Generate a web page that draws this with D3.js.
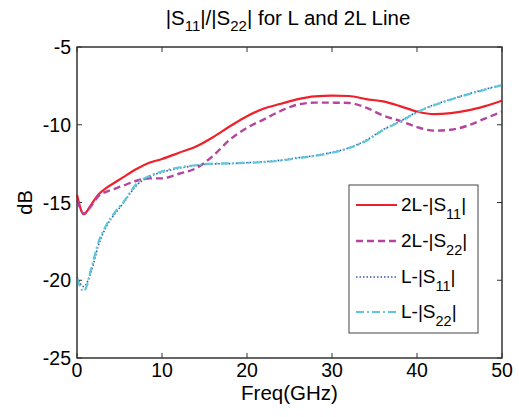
<!DOCTYPE html>
<html>
<head>
<meta charset="utf-8">
<script src="https://d3js.org/d3.v7.min.js"></script>
<style>
  body { margin: 0; background: #fff; }
  text { font-family: "Liberation Sans", Arial, sans-serif; fill: #000; }
</style>
</head>
<body>
<div id="chart"></div>
<script>
// frequency grid (GHz) and the four traces (dB)
var freq = [0, 0.8, 1.7, 2.5, 3.5, 4.5, 5.5, 7, 8.5, 10, 12, 14, 16, 18, 20, 22, 24, 26, 28, 30, 32, 34, 36, 38, 40, 42, 44, 46, 48, 50];
var s11_2L = [-14.5, -15.75, -15.1, -14.5, -14.05, -13.7, -13.35, -12.85, -12.45, -12.2, -11.8, -11.4, -10.8, -10.1, -9.45, -8.95, -8.65, -8.35, -8.17, -8.13, -8.15, -8.35, -8.5, -8.8, -9.15, -9.32, -9.25, -9.08, -8.8, -8.45];
var s22_2L = [-14.85, -15.7, -15.2, -14.6, -14.3, -14.1, -13.9, -13.6, -13.45, -13.45, -13.15, -12.8, -12.0, -10.95, -10.2, -9.65, -9.1, -8.7, -8.58, -8.58, -8.6, -8.9, -9.4, -9.75, -10.15, -10.38, -10.32, -10.05, -9.6, -9.16];
var s11_L = [-19.8, -20.4, -19.4, -17.8, -16.5, -15.7, -15.0, -13.9, -13.35, -13.05, -12.8, -12.62, -12.52, -12.5, -12.44, -12.38, -12.28, -12.12, -11.98, -11.78, -11.48, -11.0, -10.32, -9.78, -9.18, -8.72, -8.36, -8.02, -7.72, -7.42];
var s22_L = [-19.9, -20.7, -19.2, -17.6, -16.4, -15.6, -14.95, -13.8, -13.3, -13.0, -12.75, -12.6, -12.5, -12.48, -12.45, -12.4, -12.3, -12.15, -12.0, -11.8, -11.5, -11.05, -10.35, -9.8, -9.2, -8.75, -8.38, -8.05, -7.75, -7.45];

var xTicks = [0, 10, 20, 30, 40, 50];
var yTicks = [-25, -20, -15, -10, -5];

var series = [
  {name: "2L-|S", sub: "11", values: s11_2L, color: "#f0202a", width: 2.2, dash: null},
  {name: "2L-|S", sub: "22", values: s22_2L, color: "#b4449e", width: 2.4, dash: "7,4"},
  {name: "L-|S", sub: "11", values: s11_L, color: "#3a55b0", width: 1.6, dash: "1.5,2"},
  {name: "L-|S", sub: "22", values: s22_L, color: "#5cc8d8", width: 2.2, dash: "8,3,2,3"}
];

var W = 519, H = 417;
var svg = d3.select("#chart").append("svg").attr("width", W).attr("height", H);

var x = d3.scaleLinear().domain([0, 50]).range([77, 502]);
var y = d3.scaleLinear().domain([-25, -5]).range([358, 47]);

// frame with inward ticks on all sides
var axisColor = "#333";
svg.append("rect")
  .attr("x", x(0)).attr("y", y(-5))
  .attr("width", x(50) - x(0)).attr("height", y(-25) - y(-5))
  .attr("fill", "#fff").attr("stroke", axisColor).attr("stroke-width", 1);

var tk = 5;
xTicks.forEach(function(t) {
  svg.append("line").attr("x1", x(t)).attr("x2", x(t)).attr("y1", y(-25)).attr("y2", y(-25) - tk).attr("stroke", axisColor);
  svg.append("line").attr("x1", x(t)).attr("x2", x(t)).attr("y1", y(-5)).attr("y2", y(-5) + tk).attr("stroke", axisColor);
  svg.append("text").attr("x", x(t)).attr("y", y(-25) + 19)
    .attr("text-anchor", "middle").attr("font-size", 19.5).text(t);
});
yTicks.forEach(function(t) {
  svg.append("line").attr("x1", x(0)).attr("x2", x(0) + tk).attr("y1", y(t)).attr("y2", y(t)).attr("stroke", axisColor);
  svg.append("line").attr("x1", x(50)).attr("x2", x(50) - tk).attr("y1", y(t)).attr("y2", y(t)).attr("stroke", axisColor);
  svg.append("text").attr("x", x(0) - 6).attr("y", y(t) + 7)
    .attr("text-anchor", "end").attr("font-size", 19.5).text(t);
});

// traces
var line = d3.line()
  .x(function(d, i) { return x(freq[i]); })
  .y(function(d) { return y(d); })
  .curve(d3.curveMonotoneX);

series.forEach(function(s) {
  svg.append("path")
    .attr("d", line(s.values))
    .attr("fill", "none")
    .attr("stroke", s.color)
    .attr("stroke-width", s.width)
    .attr("stroke-dasharray", s.dash);
});

// redraw frame edges on top
svg.append("rect")
  .attr("x", x(0)).attr("y", y(-5))
  .attr("width", x(50) - x(0)).attr("height", y(-25) - y(-5))
  .attr("fill", "none").attr("stroke", axisColor).attr("stroke-width", 1);

function subText(sel, main, sub, tail, subFs, shift) {
  sel.append("tspan").text(main);
  sel.append("tspan").attr("dy", shift).attr("font-size", subFs).text(sub);
  sel.append("tspan").attr("dy", -shift).text(tail);
}

// title
var title = svg.append("text").attr("x", 288).attr("y", 25)
  .attr("text-anchor", "middle").attr("font-size", 20.5);
title.append("tspan").text("|S");
title.append("tspan").attr("dy", 6).attr("font-size", 15).text("11");
title.append("tspan").attr("dy", -6).text("|/|S");
title.append("tspan").attr("dy", 6).attr("font-size", 15).text("22");
title.append("tspan").attr("dy", -6).text("| for L and 2L Line");

// axis labels
svg.append("text").attr("x", x(25)).attr("y", 400)
  .attr("text-anchor", "middle").attr("font-size", 20.5).text("Freq(GHz)");
svg.append("text").attr("transform", "translate(32," + y(-15) + ") rotate(-90)")
  .attr("text-anchor", "middle").attr("font-size", 20).text("dB");

// legend
var lg = svg.append("g");
lg.append("rect").attr("x", 349).attr("y", 185).attr("width", 129).attr("height", 148)
  .attr("fill", "#fff").attr("stroke", "#444").attr("stroke-width", 1);
var legY = [205, 241, 277, 312];
series.forEach(function(s, i) {
  lg.append("line").attr("x1", 356).attr("x2", 397).attr("y1", legY[i]).attr("y2", legY[i])
    .attr("stroke", s.color).attr("stroke-width", s.width).attr("stroke-dasharray", s.dash);
  var t = lg.append("text").attr("x", 401).attr("y", legY[i] + 6).attr("font-size", 19);
  subText(t, s.name, s.sub, "|", 14.5, 8);
});
</script>
</body>
</html>
